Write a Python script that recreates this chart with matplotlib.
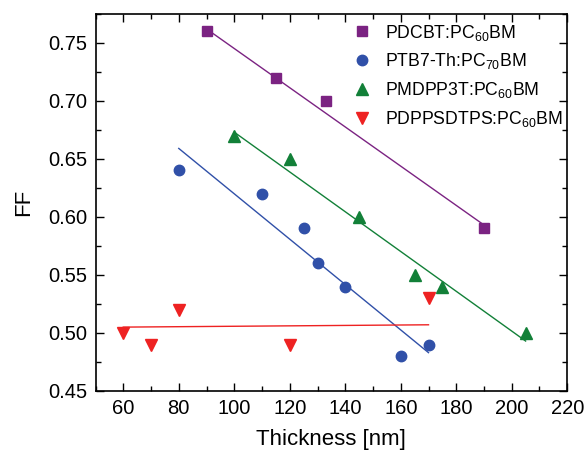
import matplotlib
matplotlib.use('Agg')
import matplotlib.pyplot as plt
from matplotlib.ticker import MultipleLocator

plt.rcParams['font.family'] = ['Liberation Sans', 'DejaVu Sans']
plt.rcParams['mathtext.default'] = 'regular'

# measured points
pdcbt_x = [90, 115, 133, 190]
pdcbt_y = [0.76, 0.72, 0.70, 0.59]
ptb7_x = [80, 110, 125, 130, 140, 160, 170]
ptb7_y = [0.64, 0.62, 0.59, 0.56, 0.54, 0.48, 0.49]
pmdpp_x = [100, 120, 145, 165, 175, 205]
pmdpp_y = [0.67, 0.65, 0.60, 0.55, 0.54, 0.50]
pdpps_x = [60, 70, 80, 120, 170]
pdpps_y = [0.50, 0.49, 0.52, 0.49, 0.53]

# fit line endpoints
pdcbt_fit_x = [90, 190]
pdcbt_fit_y = [0.762, 0.593]
ptb7_fit_x = [80, 170]
ptb7_fit_y = [0.659, 0.483]
pmdpp_fit_x = [100, 205]
pmdpp_fit_y = [0.673, 0.493]
pdpps_fit_x = [60, 170]
pdpps_fit_y = [0.505, 0.507]

labels = [r'PDCBT:PC$_{60}$BM', r'PTB7-Th:PC$_{70}$BM',
          r'PMDPP3T:PC$_{60}$BM', r'PDPPSDTPS:PC$_{60}$BM']
colors = ['#7B2382', '#3050A8', '#128038', '#EE2222']

fig = plt.figure(figsize=(5.86, 4.61), dpi=100)
ax = fig.add_axes([0.163, 0.152, 0.805, 0.818])

ax.plot(pdcbt_fit_x, pdcbt_fit_y, color=colors[0], lw=1)
ax.plot(ptb7_fit_x, ptb7_fit_y, color=colors[1], lw=1)
ax.plot(pmdpp_fit_x, pmdpp_fit_y, color=colors[2], lw=1)
ax.plot(pdpps_fit_x, pdpps_fit_y, color=colors[3], lw=1)

ax.plot(pdcbt_x, pdcbt_y, 's', color=colors[0], ms=7, ls='none', label=labels[0])
ax.plot(ptb7_x, ptb7_y, 'o', color=colors[1], ms=7.5, ls='none', label=labels[1])
ax.plot(pmdpp_x, pmdpp_y, '^', color=colors[2], ms=8.5, ls='none', label=labels[2])
ax.plot(pdpps_x, pdpps_y, 'v', color=colors[3], ms=8.5, ls='none', label=labels[3])

ax.set_xlim(50, 220)
ax.set_ylim(0.45, 0.775)
ax.xaxis.set_major_locator(MultipleLocator(20))
ax.xaxis.set_minor_locator(MultipleLocator(10))
ax.yaxis.set_major_locator(MultipleLocator(0.05))
ax.yaxis.set_minor_locator(MultipleLocator(0.025))
ax.yaxis.set_major_formatter(plt.FormatStrFormatter('%.2f'))
ax.tick_params(which='both', direction='in', top=True, right=True, labelsize=14.5)
ax.tick_params(which='major', length=6, width=1, pad=6)
ax.tick_params(which='minor', length=3.5, width=1)
for s in ax.spines.values():
    s.set_linewidth(1.2)

ax.set_xlabel('Thickness [nm]', fontsize=16, labelpad=8)
ax.set_ylabel('FF', fontsize=16, labelpad=10)

ax.legend(loc='upper right', frameon=False, fontsize=12.7, handletextpad=0.75,
          borderaxespad=0.1, labelspacing=0.5, handlelength=1.2,
          bbox_to_anchor=(1.01, 1.0))

fig.savefig('out.png', dpi=100)
